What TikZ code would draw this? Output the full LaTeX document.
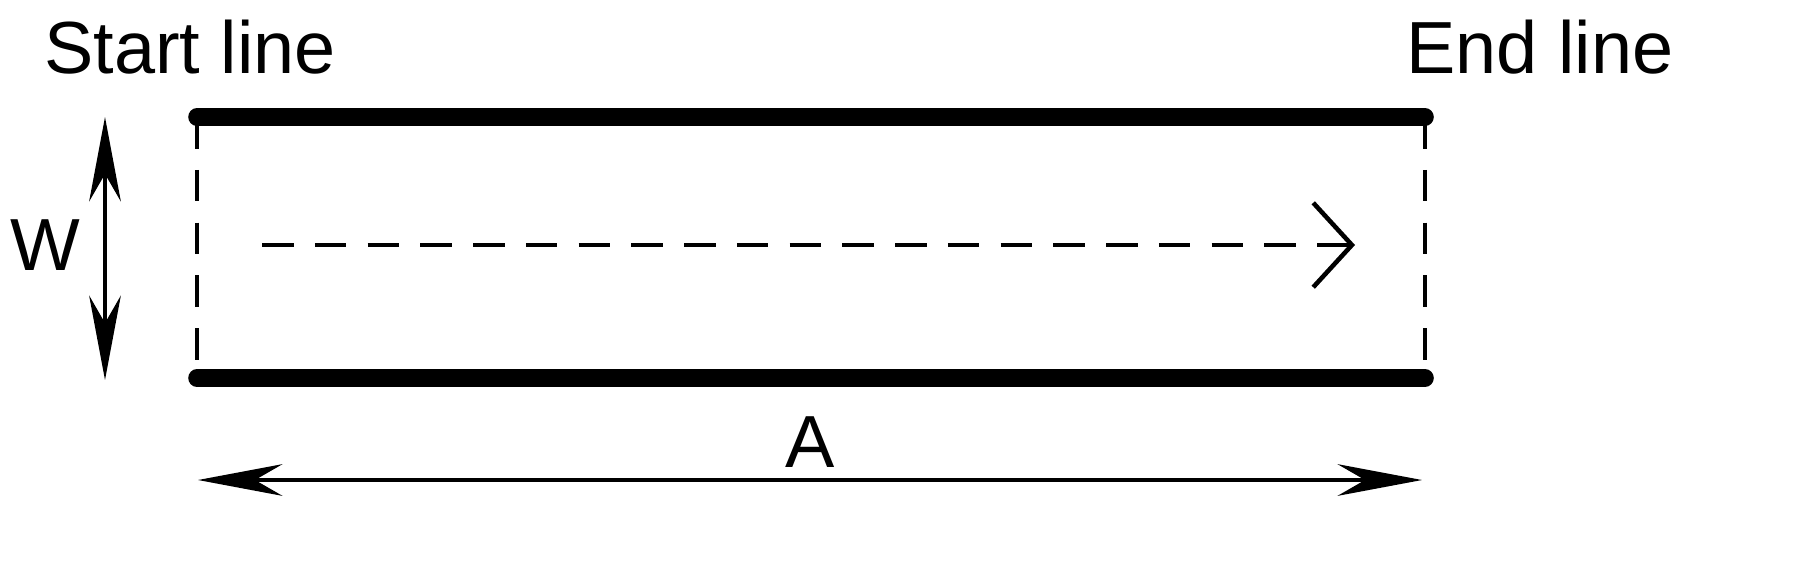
\documentclass[tikz,border=0pt]{standalone}
\usepackage{fontspec}
\setmainfont{Liberation Sans}
\usetikzlibrary{arrows.meta}
\begin{document}
\begin{tikzpicture}[x=0.01cm,y=-0.01cm,
  lbl/.style={font=\fontsize{21}{25}\selectfont, inner sep=0pt},
  thick line/.style={line width=5pt, line cap=round},
  dash line/.style={line width=1.3pt, dash pattern=on 9pt off 6pt},
  dim/.style={line width=1.3pt, {Stealth[length=24pt,width=9pt]}-{Stealth[length=24pt,width=9pt]}}]
\useasboundingbox (0,0) rectangle (1795,575);
\coordinate (tl) at (197,117); \coordinate (tr) at (1425,117);
\coordinate (bl) at (197,378); \coordinate (br) at (1425,378);
\draw[thick line] (tl) -- (tr);
\draw[thick line] (bl) -- (br);
\draw[dash line] (tl) -- (bl);
\draw[dash line] (tr) -- (br);
\coordinate (fs) at (262,245); \coordinate (fe) at (1355,245);
\draw[dash line, -{Straight Barb[length=11pt,width=24pt,line width=1.3pt]}] (fs) -- (fe);
\coordinate (wt) at (105,117); \coordinate (wb) at (105,380);
\draw[dim] (wt) -- (wb);
\coordinate (al) at (198,480); \coordinate (ar) at (1422,480);
\draw[dim] (al) -- (ar);
\node[lbl] (W) at (45,245) {W};
\node[lbl] (A) at (810,442) {A};
\node[lbl] (start) at (190,47) {Start line};
\node[lbl] (end) at (1540,47) {End line};
\end{tikzpicture}
\end{document}
